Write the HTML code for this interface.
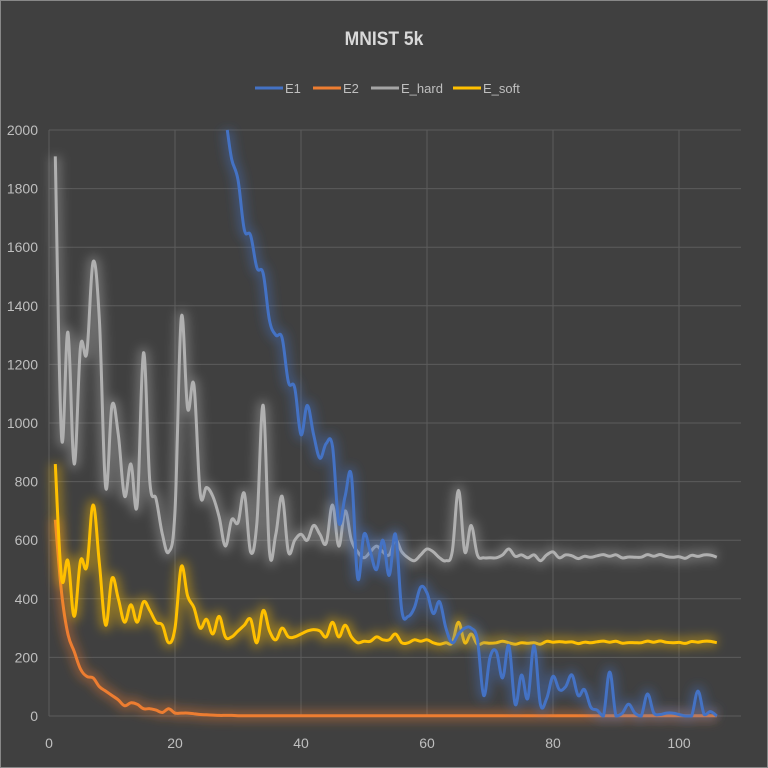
<!DOCTYPE html><html><head><style>
body{margin:0;background:#404040;}
svg{display:block;font-family:"Liberation Sans",sans-serif;}
</style></head><body>
<svg id="s" width="768" height="768" xmlns="http://www.w3.org/2000/svg">
<defs><filter id="g" x="-10%" y="-10%" width="120%" height="120%"><feGaussianBlur stdDeviation="5"/></filter></defs>
<rect width="768" height="768" fill="#404040"/>
<rect x="0.5" y="0.5" width="767" height="767" fill="none" stroke="#888" stroke-width="1"/>
<text x="384" y="45" text-anchor="middle" font-size="19" font-weight="bold" fill="#d9d9d9" transform="translate(384 0) scale(0.92 1) translate(-384 0)">MNIST 5k</text>
<g font-size="13" fill="#bfbfbf">
<line x1="255" y1="88" x2="283" y2="88" stroke="#4472c4" stroke-width="3"/><text x="285" y="93">E1</text>
<line x1="313" y1="88" x2="341" y2="88" stroke="#ed7d31" stroke-width="3"/><text x="343" y="93">E2</text>
<line x1="371" y1="88" x2="399" y2="88" stroke="#a5a5a5" stroke-width="3"/><text x="401" y="93">E_hard</text>
<line x1="453" y1="88" x2="481" y2="88" stroke="#ffc000" stroke-width="3"/><text x="483" y="93">E_soft</text>
</g>
<g id="grid" stroke="#5c5c5c" stroke-width="1"></g>
<g id="lab" font-size="14" fill="#bfbfbf"></g>
<g id="ser"></g>
</svg>
<script>
const X=d=>49+6.3*d, Y=v=>716-0.293*v;
const grid=document.getElementById('grid'),lab=document.getElementById('lab'),ser=document.getElementById('ser');
let h='';
for(let v=0;v<=2000;v+=200){h+=`<line x1="49" y1="${Y(v)}" x2="741" y2="${Y(v)}"/>`;}
for(let d=0;d<=100;d+=20){h+=`<line x1="${X(d)}" y1="130" x2="${X(d)}" y2="716"/>`;}
grid.innerHTML=h;
let l='';
for(let v=0;v<=2000;v+=200)l+=`<text x="38" y="${Y(v)+5}" text-anchor="end">${v}</text>`;
for(let d=0;d<=100;d+=20)l+=`<text x="${X(d)}" y="748" text-anchor="middle">${d}</text>`;
lab.innerHTML=l;
function ext(a,n,val,jit){const r=a.slice();let i=r.length+1;while(i<=n){r.push(val+jit*Math.sin(i*1.7)*Math.cos(i*0.9));i++;}return r;}
let hard=[1910,950,1310,860,1260,1240,1550,1350,780,1060,960,750,860,720,1240,800,740,620,560,700,1360,1050,1130,760,780,750,680,580,670,660,760,560,660,1060,560,620,750,560,600,620,600,650,620,590,720,580,700,600,560,540,560,580,560,550,600,560,540,530,550,570,560,540,530,560,770,560,650,550,540,540,540,550,570,545,550,540,550,530,550,560,540,550];
hard=ext(hard,106,545,8);
let soft=[860,470,530,340,530,510,720,520,310,470,400,320,380,320,390,360,320,310,250,300,510,410,370,300,330,280,340,270,270,290,310,330,250,360,290,260,300,270,270,280,290,295,290,270,320,270,310,270,250,255,255,270,260,260,280,250,250,260,255,260,250,245,250,250,320,250,280,245,250,248,250,255,250,245,250,248,250,245,255,252];
soft=ext(soft,106,252,5);
let e2=[670,420,280,220,160,135,130,100,85,70,55,35,45,40,25,25,20,12,25,10,10,10,8,5,4,3,2,2,2,1];
e2=ext(e2,106,1,0);
const e1p=[[28.3,2000],[29,1900],[30,1830],[31,1660],[32,1640],[33,1530],[34,1510],[35,1350],[36,1300],[37,1290],[38,1140],[39,1120],[40,960],[41,1060],[42,960],[43,880],[44,930],[45,920],[46,660],[47,750],[48,820],[49,470],[50,620],[51,560],[52,500],[53,600],[54,480],[55,620],[56,360],[57,340],[58,370],[59,440],[60,420],[61,350],[62,390],[63,300],[64,250],[65,280],[66,300],[67,300],[68,260],[69,70],[70,200],[71,220],[72,130],[73,240],[74,40],[75,140],[76,60],[77,240],[78,40],[79,60],[80,135],[81,90],[82,100],[83,140],[84,70],[85,90],[86,30],[87,20],[88,0],[89,150],[90,0],[91,10],[92,40],[93,10],[94,0],[95,75],[96,10],[97,5],[98,10],[99,10],[100,5],[101,0],[102,0],[103,85],[104,5],[105,15],[106,0]];
function path(pts){
 const p=pts.map(([d,v])=>[X(d),Y(Math.max(0,v))]);
 let s=`M${p[0][0]},${p[0][1]}`;
 for(let i=0;i<p.length-1;i++){const p0=p[i-1]||p[i],p1=p[i],p2=p[i+1],p3=p[i+2]||p2;
  const t=0.18;
  let c1=[p1[0]+(p2[0]-p0[0])*t,p1[1]+(p2[1]-p0[1])*t],c2=[p2[0]-(p3[0]-p1[0])*t,p2[1]-(p3[1]-p1[1])*t];
  c1[1]=Math.min(716,c1[1]);c2[1]=Math.min(716,c2[1]);
  s+=`C${c1[0].toFixed(1)},${c1[1].toFixed(1)} ${c2[0].toFixed(1)},${c2[1].toFixed(1)} ${p2[0].toFixed(1)},${p2[1].toFixed(1)}`;}
 return s;}
const arr=a=>a.map((v,i)=>[i+1,v]);
const S=[[arr(e2),'#ed7d31'],[arr(hard),'#b0b0b0'],[arr(soft),'#ffc000'],[e1p,'#4472c4']];
let o='';
for(const [pts,c] of S){const d=path(pts);
 o+=`<path d="${d}" fill="none" stroke="${c}" stroke-width="11" stroke-opacity="0.4" filter="url(#g)"/>`;
 o+=`<path d="${d}" fill="none" stroke="${c}" stroke-width="3" stroke-linejoin="round"/>`;}
ser.innerHTML=o;
</script>
</body></html>
